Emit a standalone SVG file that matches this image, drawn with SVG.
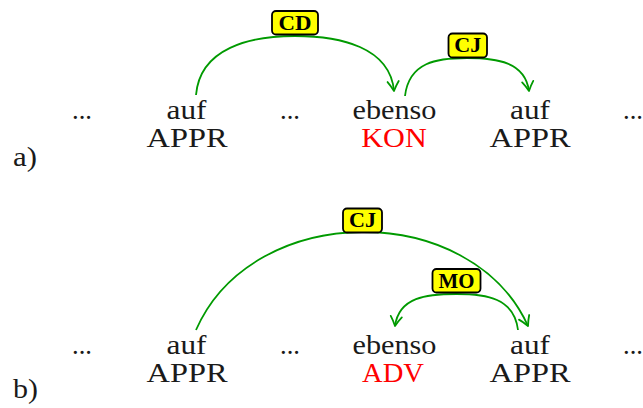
<svg xmlns="http://www.w3.org/2000/svg" width="643" height="408" viewBox="0 0 643 408">
  <style>
    .w { font-family: "Liberation Serif", "DejaVu Serif", serif; font-size: 28px; fill: #1a1a1a; text-anchor: middle; }
    .tag { fill: #1a1a1a; }
    .hl { fill: #ff0000; }
    .idx { font-family: "Liberation Serif", "DejaVu Serif", serif; font-size: 28px; fill: #1a1a1a; }
    .arc { fill: none; stroke: #009a00; stroke-width: 1.8; marker-end: url(#head); }
    .lbox { fill: #ffff00; stroke: #000; stroke-width: 1.8; }
    .ltxt { font-family: "Liberation Serif", "DejaVu Serif", serif; font-size: 20.5px; font-weight: bold; fill: #000; text-anchor: middle; }
  </style>
  <defs>
    <marker id="head" markerUnits="userSpaceOnUse" markerWidth="16" markerHeight="16" viewBox="-12 -8 16 16" refX="0" refY="0" orient="auto" overflow="visible">
      <path d="M-9.5,-5.6 C-6,-3 -2,-1 0,0 C-2,1 -6,3 -9.5,5.6" fill="none" stroke="#009a00" stroke-width="1.8" stroke-linecap="round" stroke-linejoin="round"/>
    </marker>
  </defs>

  <!-- dependency arcs -->
  <g id="connectors">
    <path id="edge-a-cd" class="arc" d="M196,95 C200,48 250,36 295,36 C340,36 390,47 394,91"/>
    <path id="edge-a-cj" class="arc" d="M405,96 C409,62 437,58 467,58 C497,58 525,62 529,91"/>
    <path id="edge-b-cj" class="arc" d="M196,330 C253,200 471,200 528,326"/>
    <path id="edge-b-mo" class="arc" d="M518,330 C514,298 486.5,294 456.5,294 C426.5,294 399,297 395,326"/>
  </g>

  <!-- arc labels -->
  <g id="label-a-cd">
    <rect class="lbox" x="272" y="11" width="46" height="23.5" rx="4"/>
    <text class="ltxt" x="295" y="29.5" textLength="33" lengthAdjust="spacingAndGlyphs">CD</text>
  </g>
  <g id="label-a-cj">
    <rect class="lbox" x="448.5" y="33.5" width="38.5" height="24" rx="4"/>
    <text class="ltxt" x="467.7" y="52" textLength="27" lengthAdjust="spacingAndGlyphs">CJ</text>
  </g>
  <g id="label-b-cj">
    <rect class="lbox" x="343" y="208.5" width="39" height="24" rx="4"/>
    <text class="ltxt" x="362.5" y="227" textLength="27" lengthAdjust="spacingAndGlyphs">CJ</text>
  </g>
  <g id="label-b-mo">
    <rect class="lbox" x="432.5" y="269" width="48" height="23.5" rx="4"/>
    <text class="ltxt" x="456.5" y="287.5" textLength="36" lengthAdjust="spacingAndGlyphs">MO</text>
  </g>

  <!-- sentence a) -->
  <g id="row-a">
    <text class="w" x="82" y="119" textLength="20" lengthAdjust="spacingAndGlyphs">...</text>
    <g id="a-auf1">
      <text class="w" x="186.5" y="119" textLength="40" lengthAdjust="spacingAndGlyphs">auf</text>
      <text class="w tag" x="187" y="146.5" textLength="81" lengthAdjust="spacingAndGlyphs">APPR</text>
    </g>
    <text class="w" x="290" y="119" textLength="20" lengthAdjust="spacingAndGlyphs">...</text>
    <g id="a-ebenso">
      <text class="w" x="394.5" y="119" textLength="84" lengthAdjust="spacingAndGlyphs">ebenso</text>
      <text class="w hl" x="394" y="146.5" textLength="65.5" lengthAdjust="spacingAndGlyphs">KON</text>
    </g>
    <g id="a-auf2">
      <text class="w" x="530" y="119" textLength="40" lengthAdjust="spacingAndGlyphs">auf</text>
      <text class="w tag" x="530" y="146.5" textLength="81" lengthAdjust="spacingAndGlyphs">APPR</text>
    </g>
    <text class="w" x="633" y="119" textLength="20" lengthAdjust="spacingAndGlyphs">...</text>
    <text class="idx" x="13" y="165.5" textLength="24" lengthAdjust="spacingAndGlyphs">a)</text>
  </g>

  <!-- sentence b) -->
  <g id="row-b">
    <text class="w" x="82" y="353.5" textLength="20" lengthAdjust="spacingAndGlyphs">...</text>
    <g id="b-auf1">
      <text class="w" x="186.5" y="353.5" textLength="40" lengthAdjust="spacingAndGlyphs">auf</text>
      <text class="w tag" x="187" y="381.5" textLength="81" lengthAdjust="spacingAndGlyphs">APPR</text>
    </g>
    <text class="w" x="290" y="353.5" textLength="20" lengthAdjust="spacingAndGlyphs">...</text>
    <g id="b-ebenso">
      <text class="w" x="394.5" y="353.5" textLength="84" lengthAdjust="spacingAndGlyphs">ebenso</text>
      <text class="w hl" x="393" y="381.5" textLength="62" lengthAdjust="spacingAndGlyphs">ADV</text>
    </g>
    <g id="b-auf2">
      <text class="w" x="530" y="353.5" textLength="40" lengthAdjust="spacingAndGlyphs">auf</text>
      <text class="w tag" x="530" y="381.5" textLength="81" lengthAdjust="spacingAndGlyphs">APPR</text>
    </g>
    <text class="w" x="633" y="353.5" textLength="20" lengthAdjust="spacingAndGlyphs">...</text>
    <text class="idx" x="13" y="398" textLength="25" lengthAdjust="spacingAndGlyphs">b)</text>
  </g>
</svg>
